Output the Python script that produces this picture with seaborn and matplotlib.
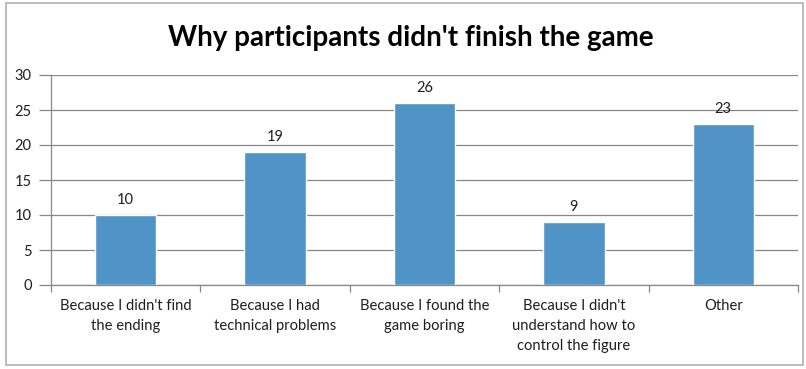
import matplotlib
matplotlib.use("Agg")
import matplotlib.pyplot as plt
from matplotlib.patches import Rectangle
import seaborn as sns
import pandas as pd

categories = [
    "Because I didn't find\nthe ending",
    "Because I had\ntechnical problems",
    "Because I found the\ngame boring",
    "Because I didn't\nunderstand how to\ncontrol the figure",
    "Other",
]
counts = [10, 19, 26, 9, 23]
y_ticks = [0, 5, 10, 15, 20, 25, 30]
title = "Why participants didn't finish the game"

df = pd.DataFrame({"reason": categories, "count": counts})

sns.set_theme(style="white")
plt.rcParams["font.family"] = ["Lato", "DejaVu Sans"]

W, H = 806, 369
fig = plt.figure(figsize=(W / 100, H / 100), dpi=100)
ax = fig.add_axes([51 / W, 1 - 285 / H, (798 - 51) / W, (285 - 75) / H])

bar_color = "#4F93C7"
grid_color = "#878787"
text_color = "#1E1E1E"

sns.barplot(data=df, x="reason", y="count", color=bar_color, width=0.41,
            saturation=1, ax=ax, zorder=3)

ax.set_xlim(-0.5, len(categories) - 0.5)
ax.set_ylim(0, 30)
ax.set_yticks(y_ticks)
ax.yaxis.grid(True, color=grid_color, linewidth=0.9, zorder=0)
ax.set_axisbelow(True)

for s in ["top", "right"]:
    ax.spines[s].set_visible(False)
for s in ["left", "bottom"]:
    ax.spines[s].set_color(grid_color)
    ax.spines[s].set_linewidth(0.9)

# category boundary ticks below the axis, labels centred between them
ax.set_xticks([i - 0.5 for i in range(len(categories) + 1)])
ax.set_xticklabels([])
ax.set_xticks(range(len(categories)), minor=True)
ax.set_xticklabels(categories, minor=True, fontsize=10.6, color=text_color,
                   linespacing=1.55)
ax.tick_params(axis="x", which="major", length=5, width=0.9, color=grid_color,
               direction="out", bottom=True)
ax.tick_params(axis="x", which="minor", length=0, pad=10)
ax.tick_params(axis="y", length=9, width=0.9, color=grid_color, direction="out",
               left=True, labelsize=10.5, labelcolor=text_color, pad=5)
ax.set_xlabel("")
ax.set_ylabel("")

for i, v in enumerate(counts):
    ax.annotate(str(v), (i, v), xytext=(0, 6), textcoords="offset points",
                ha="center", va="bottom", fontsize=10.5, color=text_color)

fig.text(411 / W, 1 - 38 / H, title, ha="center", va="center",
         fontsize=20, fontweight="bold", color="black")

fig.patches.append(Rectangle((6 / W, 4 / H), (803 - 6) / W, (366 - 4) / H,
                             transform=fig.transFigure, fill=False,
                             edgecolor="#B5B5B5", linewidth=1.3))

fig.savefig("out.png", dpi=100)
